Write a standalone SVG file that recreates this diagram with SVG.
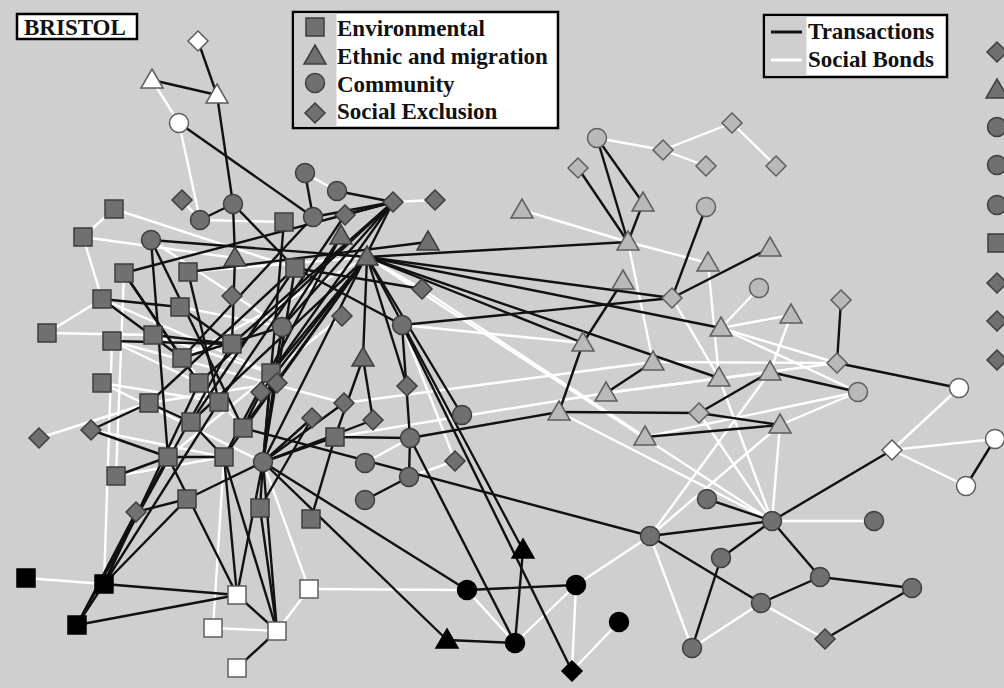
<svg xmlns="http://www.w3.org/2000/svg" width="1004" height="688" viewBox="0 0 1004 688">
<style>
.bg{fill:#cfcfcf}
.dk rect,.dk circle,.dk polygon{fill:#707070;stroke:#3e3e3e;stroke-width:1.5}
.lg rect,.lg circle,.lg polygon{fill:#b9b9b9;stroke:#5e5e5e;stroke-width:1.5}
.wh rect,.wh circle,.wh polygon{fill:#ffffff;stroke:#5e5e5e;stroke-width:1.5}
.bk rect,.bk circle,.bk polygon{fill:#000000;stroke:#000000;stroke-width:1.5}
#soc line{stroke:#ffffff;stroke-width:2.4}
#tra line{stroke:#111111;stroke-width:2.4}
.box{fill:#ffffff;stroke:#000000;stroke-width:2.5}
.lab{font-family:"Liberation Serif","Times New Roman",serif;font-weight:bold;font-size:23px;fill:#111111}
</style>
<rect class="bg" x="0" y="0" width="1004" height="688"/>
<g id="connectors">
<g id="soc">
<line x1="152" y1="80" x2="179" y2="123"/>
<line x1="179" y1="123" x2="200" y2="220"/>
<line x1="305" y1="173" x2="337" y2="191"/>
<line x1="182" y1="200" x2="200" y2="220"/>
<line x1="393" y1="202" x2="435" y2="200"/>
<line x1="597" y1="138" x2="663" y2="150"/>
<line x1="663" y1="150" x2="732" y2="123"/>
<line x1="663" y1="150" x2="706" y2="166"/>
<line x1="732" y1="123" x2="776" y2="166"/>
<line x1="522" y1="210" x2="628" y2="242"/>
<line x1="114" y1="209" x2="83" y2="237"/>
<line x1="83" y1="237" x2="102" y2="299"/>
<line x1="102" y1="299" x2="47" y2="333"/>
<line x1="114" y1="209" x2="295" y2="268"/>
<line x1="83" y1="237" x2="235" y2="258"/>
<line x1="39" y1="438" x2="149" y2="403"/>
<line x1="959" y1="388" x2="892" y2="450"/>
<line x1="892" y1="450" x2="995" y2="439"/>
<line x1="892" y1="450" x2="966" y2="486"/>
<line x1="772" y1="521" x2="874" y2="521"/>
<line x1="825" y1="639" x2="761" y2="603"/>
<line x1="761" y1="603" x2="692" y2="648"/>
<line x1="650" y1="536" x2="692" y2="648"/>
<line x1="576" y1="585" x2="650" y2="536"/>
<line x1="650" y1="536" x2="770" y2="372"/>
<line x1="650" y1="536" x2="780" y2="425"/>
<line x1="467" y1="590" x2="515" y2="643"/>
<line x1="515" y1="643" x2="576" y2="585"/>
<line x1="572" y1="671" x2="576" y2="585"/>
<line x1="572" y1="671" x2="619" y2="622"/>
<line x1="309" y1="589" x2="277" y2="631"/>
<line x1="213" y1="628" x2="277" y2="631"/>
<line x1="309" y1="589" x2="467" y2="590"/>
<line x1="309" y1="589" x2="263" y2="462"/>
<line x1="26" y1="578" x2="104" y2="584"/>
<line x1="213" y1="628" x2="224" y2="457"/>
<line x1="112" y1="341" x2="104" y2="584"/>
<line x1="721" y1="328" x2="759" y2="288"/>
<line x1="721" y1="328" x2="791" y2="315"/>
<line x1="721" y1="328" x2="837" y2="363"/>
<line x1="721" y1="328" x2="858" y2="392"/>
<line x1="858" y1="392" x2="780" y2="425"/>
<line x1="628" y1="242" x2="653" y2="362"/>
<line x1="422" y1="289" x2="367" y2="257"/>
<line x1="365" y1="463" x2="410" y2="438"/>
<line x1="455" y1="461" x2="409" y2="477"/>
<line x1="367" y1="257" x2="772" y2="521"/>
<line x1="708" y1="263" x2="719" y2="378"/>
<line x1="672" y1="298" x2="719" y2="378"/>
<line x1="791" y1="315" x2="770" y2="372"/>
<line x1="653" y1="362" x2="837" y2="363"/>
<line x1="606" y1="393" x2="837" y2="363"/>
<line x1="699" y1="413" x2="772" y2="521"/>
<line x1="780" y1="425" x2="772" y2="521"/>
<line x1="719" y1="378" x2="772" y2="521"/>
<line x1="559" y1="412" x2="772" y2="521"/>
<line x1="628" y1="242" x2="708" y2="263"/>
<line x1="402" y1="325" x2="583" y2="343"/>
<line x1="422" y1="289" x2="645" y2="437"/>
<line x1="344" y1="403" x2="653" y2="362"/>
<line x1="335" y1="437" x2="606" y2="393"/>
<line x1="402" y1="325" x2="455" y2="461"/>
<line x1="402" y1="325" x2="523" y2="550"/>
<line x1="858" y1="392" x2="645" y2="437"/>
<line x1="606" y1="393" x2="770" y2="372"/>
<line x1="124" y1="273" x2="116" y2="476"/>
<line x1="200" y1="220" x2="284" y2="222"/>
<line x1="151" y1="240" x2="282" y2="327"/>
<line x1="188" y1="272" x2="367" y2="257"/>
<line x1="180" y1="307" x2="282" y2="327"/>
<line x1="153" y1="335" x2="271" y2="373"/>
<line x1="102" y1="383" x2="219" y2="402"/>
<line x1="149" y1="403" x2="277" y2="383"/>
<line x1="112" y1="341" x2="199" y2="383"/>
<line x1="182" y1="358" x2="243" y2="428"/>
<line x1="91" y1="430" x2="224" y2="457"/>
<line x1="47" y1="333" x2="153" y2="335"/>
<line x1="116" y1="476" x2="224" y2="457"/>
<line x1="263" y1="462" x2="187" y2="499"/>
<line x1="102" y1="299" x2="271" y2="373"/>
<line x1="102" y1="383" x2="263" y2="462"/>
<line x1="182" y1="358" x2="367" y2="257"/>
<line x1="168" y1="457" x2="342" y2="316"/>
<line x1="112" y1="341" x2="344" y2="403"/>
</g>
<g id="tra">
<line x1="198" y1="41" x2="217" y2="95"/>
<line x1="152" y1="80" x2="217" y2="95"/>
<line x1="217" y1="95" x2="233" y2="204"/>
<line x1="179" y1="123" x2="313" y2="217"/>
<line x1="305" y1="173" x2="313" y2="217"/>
<line x1="337" y1="191" x2="393" y2="202"/>
<line x1="313" y1="217" x2="393" y2="202"/>
<line x1="345" y1="215" x2="393" y2="202"/>
<line x1="233" y1="204" x2="200" y2="220"/>
<line x1="233" y1="204" x2="295" y2="268"/>
<line x1="233" y1="204" x2="235" y2="258"/>
<line x1="235" y1="258" x2="232" y2="344"/>
<line x1="151" y1="240" x2="367" y2="257"/>
<line x1="124" y1="273" x2="393" y2="202"/>
<line x1="151" y1="240" x2="168" y2="457"/>
<line x1="151" y1="240" x2="243" y2="428"/>
<line x1="124" y1="273" x2="199" y2="383"/>
<line x1="124" y1="273" x2="182" y2="358"/>
<line x1="188" y1="272" x2="219" y2="402"/>
<line x1="102" y1="299" x2="180" y2="307"/>
<line x1="102" y1="299" x2="182" y2="358"/>
<line x1="112" y1="341" x2="232" y2="344"/>
<line x1="153" y1="335" x2="232" y2="344"/>
<line x1="180" y1="307" x2="232" y2="344"/>
<line x1="91" y1="430" x2="168" y2="457"/>
<line x1="91" y1="430" x2="149" y2="403"/>
<line x1="367" y1="257" x2="628" y2="242"/>
<line x1="367" y1="257" x2="672" y2="298"/>
<line x1="367" y1="257" x2="721" y2="328"/>
<line x1="367" y1="257" x2="583" y2="343"/>
<line x1="367" y1="257" x2="719" y2="378"/>
<line x1="367" y1="257" x2="363" y2="358"/>
<line x1="367" y1="257" x2="407" y2="386"/>
<line x1="367" y1="257" x2="462" y2="415"/>
<line x1="367" y1="257" x2="523" y2="550"/>
<line x1="402" y1="325" x2="672" y2="298"/>
<line x1="402" y1="325" x2="410" y2="438"/>
<line x1="402" y1="325" x2="572" y2="671"/>
<line x1="410" y1="438" x2="515" y2="643"/>
<line x1="410" y1="438" x2="559" y2="412"/>
<line x1="559" y1="412" x2="699" y2="413"/>
<line x1="645" y1="437" x2="780" y2="425"/>
<line x1="559" y1="412" x2="583" y2="343"/>
<line x1="583" y1="343" x2="623" y2="281"/>
<line x1="243" y1="428" x2="650" y2="536"/>
<line x1="263" y1="462" x2="467" y2="590"/>
<line x1="263" y1="462" x2="447" y2="640"/>
<line x1="447" y1="640" x2="515" y2="643"/>
<line x1="515" y1="643" x2="523" y2="550"/>
<line x1="467" y1="590" x2="576" y2="585"/>
<line x1="597" y1="138" x2="628" y2="242"/>
<line x1="597" y1="138" x2="643" y2="203"/>
<line x1="578" y1="168" x2="628" y2="242"/>
<line x1="643" y1="203" x2="628" y2="242"/>
<line x1="672" y1="298" x2="770" y2="248"/>
<line x1="672" y1="298" x2="706" y2="207"/>
<line x1="841" y1="300" x2="837" y2="363"/>
<line x1="837" y1="363" x2="959" y2="388"/>
<line x1="770" y1="372" x2="858" y2="392"/>
<line x1="699" y1="413" x2="780" y2="425"/>
<line x1="699" y1="413" x2="770" y2="372"/>
<line x1="995" y1="439" x2="966" y2="486"/>
<line x1="892" y1="450" x2="772" y2="521"/>
<line x1="707" y1="499" x2="772" y2="521"/>
<line x1="772" y1="521" x2="721" y2="558"/>
<line x1="772" y1="521" x2="820" y2="577"/>
<line x1="650" y1="536" x2="772" y2="521"/>
<line x1="820" y1="577" x2="912" y2="588"/>
<line x1="820" y1="577" x2="761" y2="603"/>
<line x1="912" y1="588" x2="825" y2="639"/>
<line x1="650" y1="536" x2="761" y2="603"/>
<line x1="721" y1="558" x2="692" y2="648"/>
<line x1="104" y1="584" x2="237" y2="595"/>
<line x1="77" y1="625" x2="237" y2="595"/>
<line x1="104" y1="584" x2="77" y2="625"/>
<line x1="237" y1="595" x2="277" y2="631"/>
<line x1="277" y1="631" x2="237" y2="668"/>
<line x1="237" y1="595" x2="224" y2="457"/>
<line x1="237" y1="595" x2="263" y2="462"/>
<line x1="237" y1="595" x2="168" y2="457"/>
<line x1="277" y1="631" x2="224" y2="457"/>
<line x1="277" y1="631" x2="263" y2="462"/>
<line x1="277" y1="631" x2="260" y2="508"/>
<line x1="104" y1="584" x2="187" y2="499"/>
<line x1="104" y1="584" x2="136" y2="512"/>
<line x1="77" y1="625" x2="136" y2="512"/>
<line x1="136" y1="512" x2="187" y2="499"/>
<line x1="116" y1="476" x2="168" y2="457"/>
<line x1="187" y1="499" x2="263" y2="462"/>
<line x1="311" y1="519" x2="335" y2="437"/>
<line x1="263" y1="462" x2="260" y2="508"/>
<line x1="363" y1="358" x2="373" y2="420"/>
<line x1="363" y1="358" x2="335" y2="437"/>
<line x1="409" y1="477" x2="365" y2="500"/>
<line x1="409" y1="477" x2="410" y2="438"/>
<line x1="606" y1="393" x2="653" y2="362"/>
<line x1="77" y1="625" x2="168" y2="457"/>
<line x1="104" y1="584" x2="199" y2="383"/>
<line x1="77" y1="625" x2="232" y2="344"/>
<line x1="104" y1="584" x2="219" y2="402"/>
<line x1="393" y1="202" x2="232" y2="344"/>
<line x1="393" y1="202" x2="282" y2="327"/>
<line x1="393" y1="202" x2="271" y2="373"/>
<line x1="393" y1="202" x2="263" y2="462"/>
<line x1="393" y1="202" x2="199" y2="383"/>
<line x1="367" y1="257" x2="271" y2="373"/>
<line x1="367" y1="257" x2="243" y2="428"/>
<line x1="367" y1="257" x2="224" y2="457"/>
<line x1="367" y1="257" x2="261" y2="392"/>
<line x1="367" y1="257" x2="191" y2="422"/>
<line x1="341" y1="236" x2="224" y2="457"/>
<line x1="341" y1="236" x2="282" y2="327"/>
<line x1="345" y1="215" x2="219" y2="402"/>
<line x1="295" y1="268" x2="191" y2="422"/>
<line x1="295" y1="268" x2="263" y2="462"/>
<line x1="295" y1="268" x2="149" y2="403"/>
<line x1="284" y1="222" x2="263" y2="462"/>
<line x1="282" y1="327" x2="263" y2="462"/>
<line x1="271" y1="373" x2="263" y2="462"/>
<line x1="261" y1="392" x2="243" y2="428"/>
<line x1="312" y1="418" x2="263" y2="462"/>
<line x1="312" y1="418" x2="260" y2="508"/>
<line x1="335" y1="437" x2="263" y2="462"/>
<line x1="335" y1="437" x2="410" y2="438"/>
<line x1="344" y1="403" x2="263" y2="462"/>
<line x1="373" y1="420" x2="263" y2="462"/>
<line x1="282" y1="327" x2="182" y2="358"/>
<line x1="191" y1="422" x2="224" y2="457"/>
<line x1="191" y1="422" x2="149" y2="403"/>
<line x1="168" y1="457" x2="224" y2="457"/>
<line x1="313" y1="217" x2="182" y2="358"/>
<line x1="199" y1="383" x2="219" y2="402"/>
<line x1="295" y1="268" x2="422" y2="289"/>
<line x1="295" y1="268" x2="402" y2="325"/>
<line x1="188" y1="272" x2="428" y2="242"/>
</g>
</g>
<g id="nodes">
<g id="e1" class="dk"><rect x="105" y="200" width="18" height="18"/></g>
<g id="e2" class="dk"><rect x="74" y="228" width="18" height="18"/></g>
<g id="e3" class="dk"><rect x="275" y="213" width="18" height="18"/></g>
<g id="e4" class="dk"><rect x="115" y="264" width="18" height="18"/></g>
<g id="e5" class="dk"><rect x="179" y="263" width="18" height="18"/></g>
<g id="e6" class="dk"><rect x="286" y="259" width="18" height="18"/></g>
<g id="e7" class="dk"><rect x="93" y="290" width="18" height="18"/></g>
<g id="e8" class="dk"><rect x="171" y="298" width="18" height="18"/></g>
<g id="e9" class="dk"><rect x="38" y="324" width="18" height="18"/></g>
<g id="e10" class="dk"><rect x="103" y="332" width="18" height="18"/></g>
<g id="e11" class="dk"><rect x="144" y="326" width="18" height="18"/></g>
<g id="e12" class="dk"><rect x="223" y="335" width="18" height="18"/></g>
<g id="e13" class="dk"><rect x="173" y="349" width="18" height="18"/></g>
<g id="e14" class="dk"><rect x="93" y="374" width="18" height="18"/></g>
<g id="e15" class="dk"><rect x="190" y="374" width="18" height="18"/></g>
<g id="e16" class="dk"><rect x="262" y="364" width="18" height="18"/></g>
<g id="e17" class="dk"><rect x="140" y="394" width="18" height="18"/></g>
<g id="e18" class="dk"><rect x="210" y="393" width="18" height="18"/></g>
<g id="e19" class="dk"><rect x="182" y="413" width="18" height="18"/></g>
<g id="e20" class="dk"><rect x="234" y="419" width="18" height="18"/></g>
<g id="e21" class="dk"><rect x="326" y="428" width="18" height="18"/></g>
<g id="e22" class="dk"><rect x="159" y="448" width="18" height="18"/></g>
<g id="e23" class="dk"><rect x="215" y="448" width="18" height="18"/></g>
<g id="e24" class="dk"><rect x="107" y="467" width="18" height="18"/></g>
<g id="e25" class="dk"><rect x="178" y="490" width="18" height="18"/></g>
<g id="e26" class="dk"><rect x="251" y="499" width="18" height="18"/></g>
<g id="e27" class="dk"><rect x="302" y="510" width="18" height="18"/></g>
<g id="t1" class="dk"><polygon points="341,225 352,244 330,244"/></g>
<g id="t2" class="dk"><polygon points="428,231 439,250 417,250"/></g>
<g id="t3" class="dk"><polygon points="367,246 378,265 356,265"/></g>
<g id="t4" class="dk"><polygon points="235,247 246,266 224,266"/></g>
<g id="t5" class="dk"><polygon points="363,347 374,366 352,366"/></g>
<g id="c1" class="dk"><circle cx="305" cy="173" r="9.5"/></g>
<g id="c2" class="dk"><circle cx="337" cy="191" r="9.5"/></g>
<g id="c3" class="dk"><circle cx="313" cy="217" r="9.5"/></g>
<g id="c4" class="dk"><circle cx="233" cy="204" r="9.5"/></g>
<g id="c5" class="dk"><circle cx="200" cy="220" r="9.5"/></g>
<g id="c6" class="dk"><circle cx="151" cy="240" r="9.5"/></g>
<g id="c7" class="dk"><circle cx="282" cy="327" r="9.5"/></g>
<g id="c8" class="dk"><circle cx="402" cy="325" r="9.5"/></g>
<g id="c9" class="dk"><circle cx="462" cy="415" r="9.5"/></g>
<g id="c10" class="dk"><circle cx="410" cy="438" r="9.5"/></g>
<g id="c11" class="dk"><circle cx="263" cy="462" r="9.5"/></g>
<g id="c12" class="dk"><circle cx="365" cy="463" r="9.5"/></g>
<g id="c13" class="dk"><circle cx="409" cy="477" r="9.5"/></g>
<g id="c14" class="dk"><circle cx="365" cy="500" r="9.5"/></g>
<g id="c15" class="dk"><circle cx="650" cy="536" r="9.5"/></g>
<g id="c16" class="dk"><circle cx="707" cy="499" r="9.5"/></g>
<g id="c17" class="dk"><circle cx="772" cy="521" r="9.5"/></g>
<g id="c18" class="dk"><circle cx="874" cy="521" r="9.5"/></g>
<g id="c19" class="dk"><circle cx="721" cy="558" r="9.5"/></g>
<g id="c20" class="dk"><circle cx="820" cy="577" r="9.5"/></g>
<g id="c21" class="dk"><circle cx="912" cy="588" r="9.5"/></g>
<g id="c22" class="dk"><circle cx="761" cy="603" r="9.5"/></g>
<g id="c23" class="dk"><circle cx="692" cy="648" r="9.5"/></g>
<g id="d1" class="dk"><polygon points="182,190 192,200 182,210 172,200"/></g>
<g id="d2" class="dk"><polygon points="393,192 403,202 393,212 383,202"/></g>
<g id="d3" class="dk"><polygon points="435,190 445,200 435,210 425,200"/></g>
<g id="d4" class="dk"><polygon points="345,205 355,215 345,225 335,215"/></g>
<g id="d5" class="dk"><polygon points="232,286 242,296 232,306 222,296"/></g>
<g id="d6" class="dk"><polygon points="422,279 432,289 422,299 412,289"/></g>
<g id="d7" class="dk"><polygon points="342,306 352,316 342,326 332,316"/></g>
<g id="d8" class="dk"><polygon points="277,373 287,383 277,393 267,383"/></g>
<g id="d9" class="dk"><polygon points="261,382 271,392 261,402 251,392"/></g>
<g id="d10" class="dk"><polygon points="407,376 417,386 407,396 397,386"/></g>
<g id="d11" class="dk"><polygon points="344,393 354,403 344,413 334,403"/></g>
<g id="d12" class="dk"><polygon points="373,410 383,420 373,430 363,420"/></g>
<g id="d13" class="dk"><polygon points="312,408 322,418 312,428 302,418"/></g>
<g id="d14" class="dk"><polygon points="91,420 101,430 91,440 81,430"/></g>
<g id="d15" class="dk"><polygon points="39,428 49,438 39,448 29,438"/></g>
<g id="d16" class="dk"><polygon points="455,451 465,461 455,471 445,461"/></g>
<g id="d17" class="dk"><polygon points="136,502 146,512 136,522 126,512"/></g>
<g id="d18" class="dk"><polygon points="825,629 835,639 825,649 815,639"/></g>
<g id="lt1" class="lg"><polygon points="522,199 533,218 511,218"/></g>
<g id="lc1" class="lg"><circle cx="597" cy="138" r="9.5"/></g>
<g id="ld1" class="lg"><polygon points="578,158 588,168 578,178 568,168"/></g>
<g id="ld2" class="lg"><polygon points="663,140 673,150 663,160 653,150"/></g>
<g id="ld3" class="lg"><polygon points="732,113 742,123 732,133 722,123"/></g>
<g id="ld4" class="lg"><polygon points="706,156 716,166 706,176 696,166"/></g>
<g id="ld5" class="lg"><polygon points="776,156 786,166 776,176 766,166"/></g>
<g id="lt2" class="lg"><polygon points="643,192 654,211 632,211"/></g>
<g id="lc2" class="lg"><circle cx="706" cy="207" r="9.5"/></g>
<g id="lt3" class="lg"><polygon points="628,231 639,250 617,250"/></g>
<g id="lt4" class="lg"><polygon points="708,252 719,271 697,271"/></g>
<g id="lt5" class="lg"><polygon points="770,237 781,256 759,256"/></g>
<g id="lt6" class="lg"><polygon points="623,270 634,289 612,289"/></g>
<g id="ld6" class="lg"><polygon points="672,288 682,298 672,308 662,298"/></g>
<g id="lc3" class="lg"><circle cx="759" cy="288" r="9.5"/></g>
<g id="ld7" class="lg"><polygon points="841,290 851,300 841,310 831,300"/></g>
<g id="lt7" class="lg"><polygon points="791,304 802,323 780,323"/></g>
<g id="lt8" class="lg"><polygon points="721,317 732,336 710,336"/></g>
<g id="lt9" class="lg"><polygon points="583,332 594,351 572,351"/></g>
<g id="lt10" class="lg"><polygon points="653,351 664,370 642,370"/></g>
<g id="ld8" class="lg"><polygon points="837,353 847,363 837,373 827,363"/></g>
<g id="lt11" class="lg"><polygon points="770,361 781,380 759,380"/></g>
<g id="lt12" class="lg"><polygon points="719,367 730,386 708,386"/></g>
<g id="lc4" class="lg"><circle cx="858" cy="392" r="9.5"/></g>
<g id="lt13" class="lg"><polygon points="606,382 617,401 595,401"/></g>
<g id="lt14" class="lg"><polygon points="559,401 570,420 548,420"/></g>
<g id="ld9" class="lg"><polygon points="699,403 709,413 699,423 689,413"/></g>
<g id="lt15" class="lg"><polygon points="780,414 791,433 769,433"/></g>
<g id="lt16" class="lg"><polygon points="645,426 656,445 634,445"/></g>
<g id="wd1" class="wh"><polygon points="198,31 208,41 198,51 188,41"/></g>
<g id="wt1" class="wh"><polygon points="152,69 163,88 141,88"/></g>
<g id="wt2" class="wh"><polygon points="217,84 228,103 206,103"/></g>
<g id="wc1" class="wh"><circle cx="179" cy="123" r="9.5"/></g>
<g id="wc2" class="wh"><circle cx="959" cy="388" r="9.5"/></g>
<g id="wd2" class="wh"><polygon points="892,440 902,450 892,460 882,450"/></g>
<g id="wc3" class="wh"><circle cx="995" cy="439" r="9.5"/></g>
<g id="wc4" class="wh"><circle cx="966" cy="486" r="9.5"/></g>
<g id="ws1" class="wh"><rect x="228" y="586" width="18" height="18"/></g>
<g id="ws2" class="wh"><rect x="300" y="580" width="18" height="18"/></g>
<g id="ws3" class="wh"><rect x="204" y="619" width="18" height="18"/></g>
<g id="ws4" class="wh"><rect x="268" y="622" width="18" height="18"/></g>
<g id="ws5" class="wh"><rect x="228" y="659" width="18" height="18"/></g>
<g id="bs1" class="bk"><rect x="17" y="569" width="18" height="18"/></g>
<g id="bs2" class="bk"><rect x="95" y="575" width="18" height="18"/></g>
<g id="bs3" class="bk"><rect x="68" y="616" width="18" height="18"/></g>
<g id="bt1" class="bk"><polygon points="523,539 534,558 512,558"/></g>
<g id="bc1" class="bk"><circle cx="467" cy="590" r="9.5"/></g>
<g id="bc2" class="bk"><circle cx="576" cy="585" r="9.5"/></g>
<g id="bc3" class="bk"><circle cx="619" cy="622" r="9.5"/></g>
<g id="bt2" class="bk"><polygon points="447,629 458,648 436,648"/></g>
<g id="bc4" class="bk"><circle cx="515" cy="643" r="9.5"/></g>
<g id="bd1" class="bk"><polygon points="572,661 582,671 572,681 562,671"/></g>
<g id="rd1" class="dk"><polygon points="997,42 1007,52 997,62 987,52"/></g>
<g id="rt1" class="dk"><polygon points="997,79 1008,98 986,98"/></g>
<g id="rc1" class="dk"><circle cx="997" cy="127" r="9.5"/></g>
<g id="rc2" class="dk"><circle cx="997" cy="165" r="9.5"/></g>
<g id="rc3" class="dk"><circle cx="997" cy="205" r="9.5"/></g>
<g id="rs1" class="dk"><rect x="988" y="234" width="18" height="18"/></g>
<g id="rd2" class="dk"><polygon points="997,273 1007,283 997,293 987,283"/></g>
<g id="rd3" class="dk"><polygon points="997,311 1007,321 997,331 987,321"/></g>
<g id="rd4" class="dk"><polygon points="997,350 1007,360 997,370 987,360"/></g>
</g>
<g id="title">
<rect class="box" x="17" y="14" width="120" height="25"/>
<text class="lab" x="24" y="35">BRISTOL</text>
</g>
<g id="legend-types">
<rect class="box" x="293" y="12" width="265" height="116"/>
<rect x="294.5" y="13.5" width="42" height="113" fill="#cfcfcf"/>
<g class="dk"><rect x="306" y="18" width="18" height="18"/></g>
<g class="dk"><polygon points="315,45 326,64 304,64"/></g>
<g class="dk"><circle cx="315" cy="83" r="9.5"/></g>
<g class="dk"><polygon points="315,103 325,113 315,123 305,113"/></g>
<text class="lab" x="337" y="36">Environmental</text>
<text class="lab" x="337" y="64">Ethnic and migration</text>
<text class="lab" x="337" y="92">Community</text>
<text class="lab" x="337" y="119">Social Exclusion</text>
</g>
<g id="legend-ties">
<rect class="box" x="764" y="15" width="183" height="62"/>
<rect x="765.5" y="16.5" width="41" height="59" fill="#cfcfcf"/>
<line x1="771" y1="32" x2="802" y2="32" stroke="#111" stroke-width="3"/>
<line x1="771" y1="60" x2="802" y2="60" stroke="#fff" stroke-width="3"/>
<text class="lab" x="808" y="39">Transactions</text>
<text class="lab" x="808" y="67">Social Bonds</text>
</g>
</svg>
